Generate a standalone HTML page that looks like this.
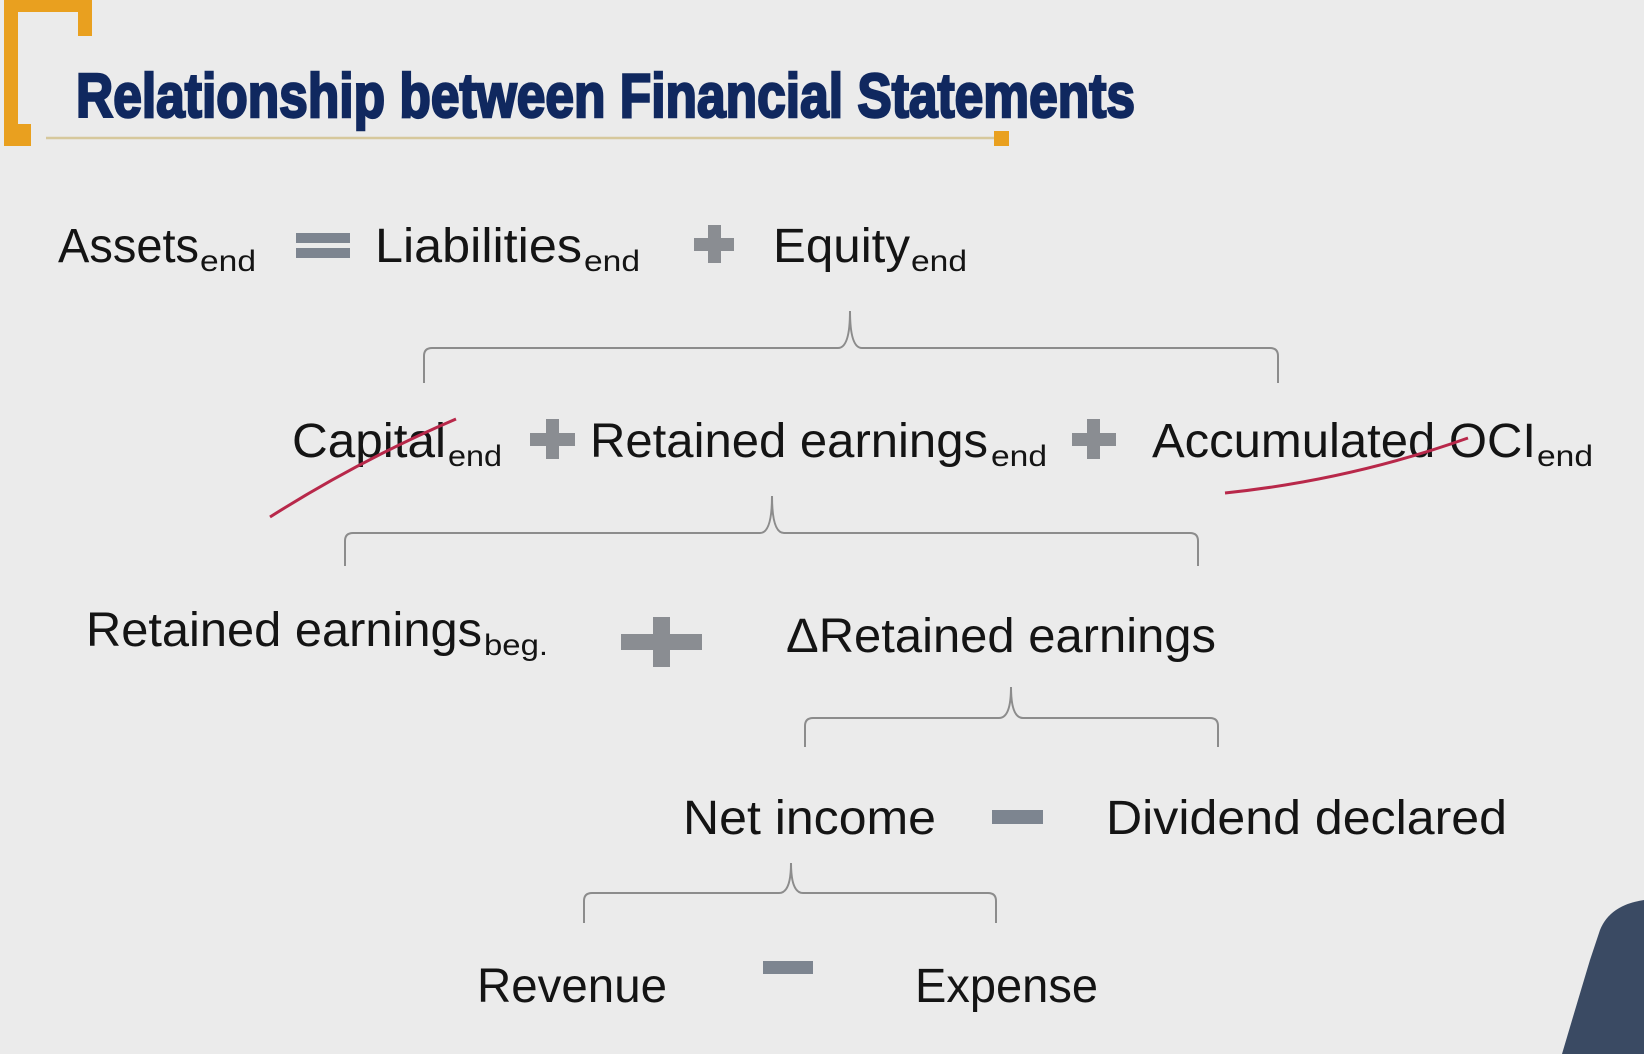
<!DOCTYPE html>
<html><head><meta charset="utf-8"><style>
html,body{margin:0;padding:0;background:#ebebeb;}
svg{display:block;}
text{font-family:"Liberation Sans",sans-serif;fill:#141414;}
</style></head><body>
<svg width="1644" height="1054" viewBox="0 0 1644 1054">
<rect x="0" y="0" width="1644" height="1054" fill="#ebebeb"/>
<g fill="#e9a01f">
<rect x="4" y="0" width="14" height="146"/>
<rect x="4" y="124" width="27" height="22"/>
<rect x="4" y="0" width="88" height="12"/>
<rect x="78" y="0" width="14" height="36"/>
</g>
<line x1="46" y1="138" x2="1000" y2="138" stroke="#d6c89c" stroke-width="2.5"/>
<rect x="994" y="131" width="15" height="15" fill="#e9a01f"/>
<text x="76" y="117" font-size="62" font-weight="bold" textLength="1059" lengthAdjust="spacingAndGlyphs" style="fill:#10285f;stroke:#10285f;stroke-width:2.5">Relationship between Financial Statements</text>

<g>
<text x="58" y="262" font-size="48" textLength="141" lengthAdjust="spacingAndGlyphs">Assets</text>
<text x="200" y="271" font-size="30" textLength="56" lengthAdjust="spacingAndGlyphs">end</text>
<rect x="296" y="233" width="54" height="10" fill="#7d8590"/>
<rect x="296" y="248" width="54" height="10" fill="#7d8590"/>
<text x="375" y="262" font-size="48" textLength="207" lengthAdjust="spacingAndGlyphs">Liabilities</text>
<text x="584" y="271" font-size="30" textLength="56" lengthAdjust="spacingAndGlyphs">end</text>
<g fill="#8a8d92"><rect x="694" y="238" width="40" height="13"/><rect x="708" y="225" width="13" height="38"/></g>
<text x="773" y="262" font-size="48" textLength="137" lengthAdjust="spacingAndGlyphs">Equity</text>
<text x="911" y="271" font-size="30" textLength="56" lengthAdjust="spacingAndGlyphs">end</text>
</g>

<g fill="none" stroke="#8c8c8c" stroke-width="2">
<path d="M424,383 L424,356 Q424,348 432,348 L838,348 Q850,348 850,311 Q850,348 862,348 L1270,348 Q1278,348 1278,356 L1278,383"/>
<path d="M345,566 L345,541 Q345,533 353,533 L760,533 Q772,533 772,496 Q772,533 784,533 L1190,533 Q1198,533 1198,541 L1198,566"/>
<path d="M805,747 L805,726 Q805,718 813,718 L999,718 Q1011,718 1011,687 Q1011,718 1023,718 L1210,718 Q1218,718 1218,726 L1218,747"/>
<path d="M584,923 L584,901 Q584,893 592,893 L779,893 Q791,893 791,863 Q791,893 803,893 L988,893 Q996,893 996,901 L996,923"/>
</g>

<g>
<text x="292" y="457" font-size="48" textLength="154" lengthAdjust="spacingAndGlyphs">Capital</text>
<text x="448" y="466" font-size="30" textLength="54" lengthAdjust="spacingAndGlyphs">end</text>
<g fill="#8a8d92"><rect x="530" y="433" width="45" height="13"/><rect x="546" y="419" width="13" height="40"/></g>
<text x="590" y="457" font-size="48" textLength="398" lengthAdjust="spacingAndGlyphs">Retained earnings</text>
<text x="991" y="466" font-size="30" textLength="56" lengthAdjust="spacingAndGlyphs">end</text>
<g fill="#8a8d92"><rect x="1072" y="433" width="44" height="13"/><rect x="1087" y="419" width="13" height="40"/></g>
<text x="1152" y="457" font-size="48" textLength="384" lengthAdjust="spacingAndGlyphs">Accumulated OCI</text>
<text x="1537" y="466" font-size="30" textLength="56" lengthAdjust="spacingAndGlyphs">end</text>
<path d="M270,517 Q360,460 456,419" fill="none" stroke="#b8284a" stroke-width="3"/>
<path d="M1225,493 Q1350,480 1468,438" fill="none" stroke="#b8284a" stroke-width="3"/>
</g>

<g>
<text x="86" y="646" font-size="48" textLength="396" lengthAdjust="spacingAndGlyphs">Retained earnings</text>
<text x="484" y="655" font-size="30" textLength="64" lengthAdjust="spacingAndGlyphs">beg.</text>
<g fill="#8a8d92"><rect x="621" y="634" width="81" height="16"/><rect x="653" y="617" width="17" height="50"/></g>
<text x="786" y="652" font-size="48" textLength="430" lengthAdjust="spacingAndGlyphs">ΔRetained earnings</text>
</g>

<g>
<text x="683" y="834" font-size="48" textLength="253" lengthAdjust="spacingAndGlyphs">Net income</text>
<rect x="992" y="810" width="51" height="14" fill="#7d8590"/>
<text x="1106" y="834" font-size="48" textLength="401" lengthAdjust="spacingAndGlyphs">Dividend declared</text>
</g>

<g>
<text x="477" y="1002" font-size="48" textLength="190" lengthAdjust="spacingAndGlyphs">Revenue</text>
<rect x="763" y="961" width="50" height="13" fill="#7d8590"/>
<text x="915" y="1002" font-size="48" textLength="183" lengthAdjust="spacingAndGlyphs">Expense</text>
</g>

<path d="M1644,900 Q1610,905 1600,930 L1590,960 Q1575,1010 1562,1054 L1644,1054 Z" fill="#3a4a63"/>
</svg>
</body></html>
